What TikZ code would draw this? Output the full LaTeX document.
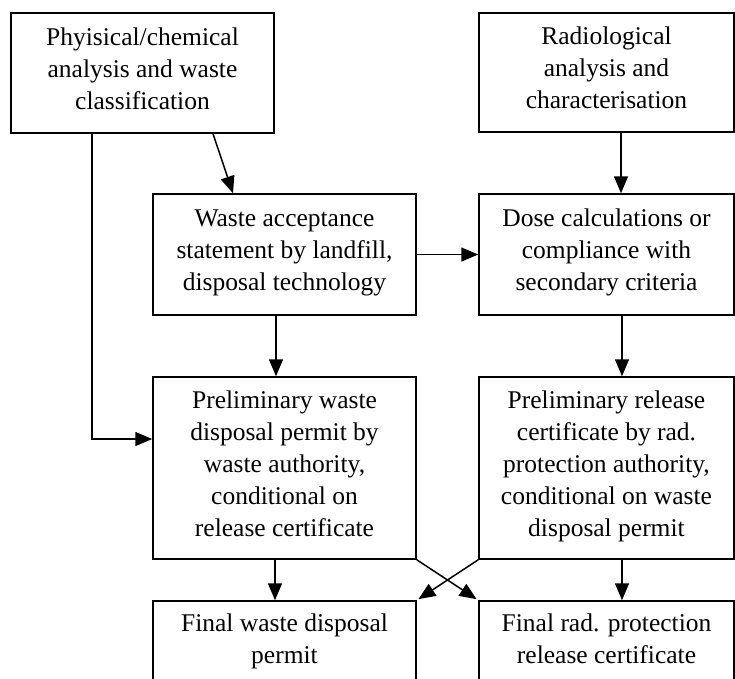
\documentclass[tikz,border=0pt]{standalone}
\usepackage{fontspec}
\setmainfont{Liberation Serif}
\usetikzlibrary{arrows.meta}

\begin{document}
\begin{tikzpicture}[
            x=1pt, y=-1pt,
            box/.style={draw, line width=1.5pt, align=center, inner sep=0pt,
                        font=\fontsize{25.5}{32}\selectfont,
                        execute at begin node=\strut, execute at end node=\strut},
            boxL/.style={box, minimum width=263pt},
            boxR/.style={box, minimum width=255pt},
            arr/.style={line width=1.5pt, arrows=-{Triangle[length=17pt, width=14pt]}}
        ]
        \clip (0,0) rectangle (735,678);

        \node[boxL, minimum height=120pt] (phys) at (142.5,73)
            {Phyisical/chemical\\analysis and waste\\classification};
        \node[boxR, minimum height=119pt] (rad) at (606.5,72.5)
            {Radiological\\analysis and\\characterisation};
        \node[boxL, minimum height=121pt] (accept) at (284.5,254.5)
            {Waste acceptance\\statement by landfill,\\disposal technology};
        \node[boxR, minimum height=121pt] (dose) at (606.5,254.5)
            {Dose calculations or\\compliance with\\secondary criteria};
        \node[boxL, minimum height=182pt] (prelimW) at (284.5,468)
            {Preliminary waste\\disposal permit by\\waste authority,\\conditional on\\release certificate};
        \node[boxR, minimum height=182pt] (prelimR) at (606.5,468)
            {Preliminary release\\certificate by rad.\\protection authority,\\conditional on waste\\disposal permit};
        \node[boxL, minimum height=84pt] (finalW) at (284.5,643)
            {Final waste disposal\\permit};
        \node[boxR, minimum height=84pt] (finalR) at (606.5,643)
            {Final rad. protection\\release certificate};

        \draw[arr] ([xshift=70.5pt]phys.south) -- ([xshift=-51.5pt]accept.north);
        \draw[arr] ([xshift=14.5pt]rad.south) -- ([xshift=14.5pt]dose.north);
        \draw[arr] (accept.east) -- (dose.west);
        \draw[arr] ([xshift=-8.5pt]accept.south) -- ([xshift=-8.5pt]prelimW.north);
        \draw[arr] ([xshift=15.5pt]dose.south) -- ([xshift=15.5pt]prelimR.north);
        \draw[arr] ([xshift=-50.5pt]phys.south) |- ([yshift=29pt]prelimW.west);
        \draw[arr] ([xshift=-9.5pt]prelimW.south) -- ([xshift=-9.5pt]finalW.north);
        \draw[arr] ([xshift=15.5pt]prelimR.south) -- ([xshift=15.5pt]finalR.north);
        % crossing arrows
        \draw[arr, shorten >=2pt] (prelimW.south east) -- (finalR.north west);
        \draw[arr, shorten >=2pt] (prelimR.south west) -- (finalW.north east);
\end{tikzpicture}
\end{document}
